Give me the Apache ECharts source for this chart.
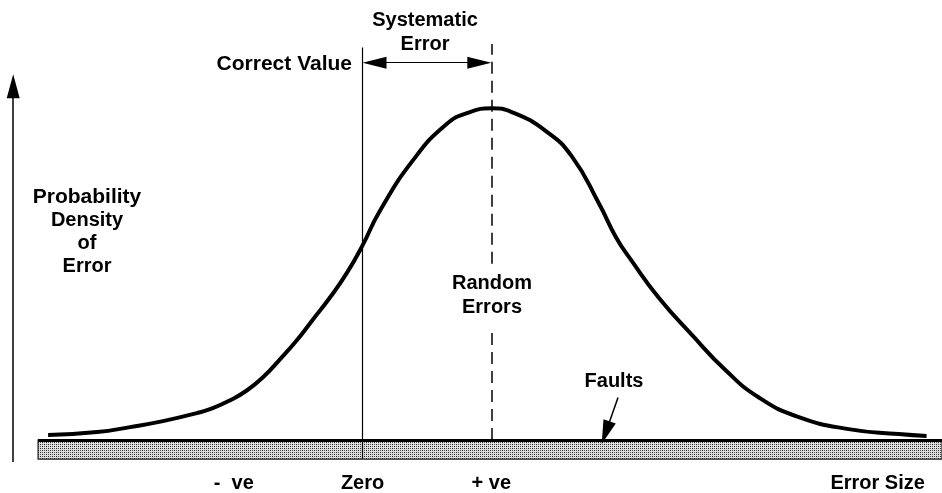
<!DOCTYPE html>
<html>
<head>
<meta charset="utf-8">
<script src="https://cdn.jsdelivr.net/npm/echarts@6/dist/echarts.min.js"></script>
<style>
  html, body { margin: 0; padding: 0; background: #fff; }
  #main { width: 942px; height: 493px; }
</style>
</head>
<body>
<div id="main"></div>
<script>
// error size in units of the systematic offset (Zero = 0, +ve = 1)
const errX = [-2.442, -2.062, -1.806, -1.55, -1.287, -1.163, -1.031, -0.899, -0.775, -0.643, -0.512,
    -0.388, -0.256, -0.124, 0, 0.132, 0.388, 0.651, 0.829, 1.0, 1.163, 1.426, 1.628, 1.837, 1.969,
    2.093, 2.302, 2.558, 2.822, 3.078, 3.388, 3.775, 4.163, 4.38];
// probability density, peak ~ 1
const density = [0.015, 0.024, 0.039, 0.057, 0.081, 0.096, 0.119, 0.149, 0.188, 0.242, 0.299,
    0.361, 0.427, 0.501, 0.585, 0.687, 0.839, 0.949, 0.985, 0.997, 0.985, 0.928, 0.851, 0.710, 0.609,
    0.537, 0.427, 0.316, 0.209, 0.128, 0.069, 0.033, 0.018, 0.012];

const tickValues = [-1, 0, 1, 4];
const tickLabels = ['-  ve', 'Zero', '+ ve', 'Error Size'];

const correctValue = 0;
const meanValue = 1;
const faultBand = [-2.52, 4.5, -0.057];   // from, to, depth

const FAMILY = '"Liberation Sans", Arial, sans-serif';

// dotted fill for the faults band
const patternCanvas = document.createElement('canvas');
patternCanvas.width = patternCanvas.height = 4;
(function () {
    const ctx = patternCanvas.getContext('2d');
    ctx.fillStyle = '#dedede';
    ctx.fillRect(0, 0, 4, 4);
    ctx.fillStyle = '#222';
    ctx.fillRect(0, 0, 1, 1);
    ctx.fillRect(2, 2, 1, 1);
    ctx.fillStyle = '#555';
    ctx.fillRect(2, 0, 1, 1);
    ctx.fillRect(0, 2, 1, 1);
}());

function label(text, x, y, align, size) {
    return {
        type: 'text',
        x: x,
        y: y,
        style: {
            text: text,
            font: 'bold ' + (size || 20) + 'px ' + FAMILY,
            fill: '#000',
            align: align || 'center',
            verticalAlign: 'middle'
        }
    };
}

const chart = echarts.init(document.getElementById('main'));

const option = {
    backgroundColor: '#fff',
    animation: false,
    grid: { left: 2, right: -1, top: 7.5, bottom: -0.25 },
    xAxis: {
        type: 'value',
        min: -2.8,
        max: 4.5,
        offset: -17,
        axisLine: { show: false },
        axisTick: { show: false },
        splitLine: { show: false },
        axisLabel: {
            customValues: tickValues,
            margin: 0,
            fontSize: 20,
            fontWeight: 'bold',
            fontFamily: FAMILY,
            color: '#000',
            formatter: function (v) {
                const i = tickValues.indexOf(v);
                return i >= 0 ? tickLabels[i] : '';
            }
        }
    },
    yAxis: {
        type: 'value',
        min: -0.15,
        max: 1.3,
        show: false
    },
    series: [
        {
            name: 'faults band',
            type: 'line',
            data: [],
            silent: true,
            markArea: {
                silent: true,
                itemStyle: {
                    color: { image: patternCanvas, repeat: 'repeat' },
                    borderColor: '#222',
                    borderWidth: 1.2
                },
                data: [[{ coord: [faultBand[0], 0] }, { coord: [faultBand[1], faultBand[2]] }]]
            },
            markLine: {
                silent: true,
                symbol: 'none',
                label: { show: false },
                lineStyle: { color: '#000', width: 3, type: 'solid' },
                data: [[{ coord: [faultBand[0], 0] }, { coord: [faultBand[1], 0] }]]
            }
        },
        {
            name: 'density',
            type: 'line',
            smooth: 0.5,
            showSymbol: false,
            silent: true,
            lineStyle: { color: '#000', width: 4 },
            data: errX.map(function (x, i) { return [x, density[i]]; }),
            z: 5
        },
        {
            name: 'guides',
            type: 'line',
            data: [],
            markLine: {
                silent: true,
                symbol: 'none',
                label: { show: false },
                data: [
                    [{ coord: [correctValue, faultBand[2]], lineStyle: { color: '#000', width: 1.2, type: 'solid' } },
                     { coord: [correctValue, 1.18] }],
                    [{ coord: [meanValue, 0], lineStyle: { color: '#000', width: 1.5, type: [12, 7] } },
                     { coord: [meanValue, 0.33] }],
                    [{ coord: [meanValue, 0.53], lineStyle: { color: '#000', width: 1.5, type: [12, 7] } },
                     { coord: [meanValue, 1.19] }]
                ]
            }
        },
        {
            name: 'density axis',
            type: 'line',
            data: [],
            markLine: {
                silent: true,
                symbol: ['none', 'triangle'],
                symbolSize: [13, 24],
                label: { show: false },
                lineStyle: { color: '#000', width: 1.5, type: 'solid' },
                data: [[{ coord: [-2.713, -0.066] }, { coord: [-2.713, 1.063] }]]
            }
        },
        {
            name: 'systematic',
            type: 'line',
            data: [],
            markLine: {
                silent: true,
                symbol: ['triangle', 'triangle'],
                symbolSize: [12, 24],
                label: { show: false },
                lineStyle: { color: '#000', width: 1.2, type: 'solid' },
                data: [[{ coord: [0.093, 1.134] }, { coord: [0.907, 1.134] }]]
            }
        },
        {
            name: 'faults arrow',
            type: 'line',
            data: [],
            markLine: {
                silent: true,
                symbol: ['none', 'triangle'],
                symbolSize: [13, 24],
                label: { show: false },
                lineStyle: { color: '#000', width: 1.5, type: 'solid' },
                data: [[{ coord: [1.984, 0.128] }, { coord: [1.888, 0.022] }]]
            }
        }
    ],
    graphic: [
        label('Systematic', 425, 20),
        label('Error', 425, 44),
        label('Correct Value', 352, 64, 'right', 21),
        label('Probability', 87, 197, 'center', 21),
        label('Density', 87, 220),
        label('of', 87, 243),
        label('Error', 87, 266),
        label('Random', 492, 283),
        label('Errors', 492, 307),
        label('Faults', 614, 381)
    ]
};

chart.setOption(option);
</script>
</body>
</html>
